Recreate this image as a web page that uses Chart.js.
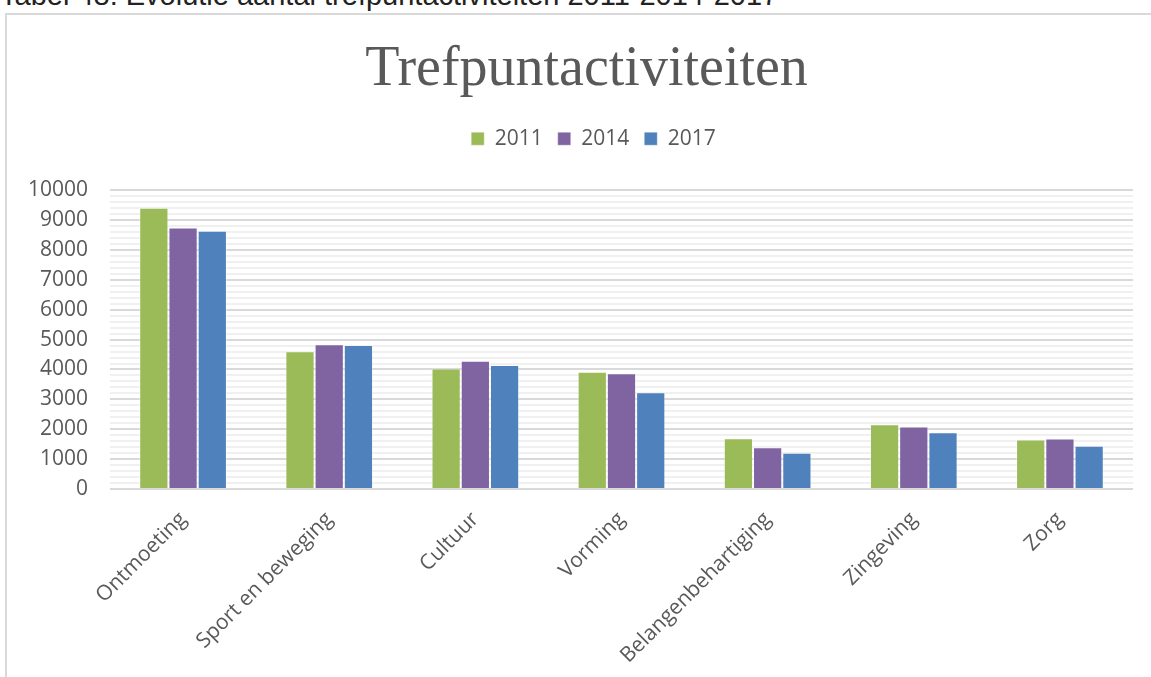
<!DOCTYPE html>
<html>
<head>
<meta charset="utf-8">
<script src="https://cdn.jsdelivr.net/npm/chart.js@4.4.1/dist/chart.umd.min.js"></script>
<style>
  html, body { margin: 0; padding: 0; background: #ffffff; overflow: hidden; }
  #page { position: relative; width: 1151px; height: 677px; overflow: hidden; background: #fff; }
  #caption { position: absolute; left: 0px; top: -19px; font-family: "Liberation Sans", "Open Sans", sans-serif; font-size: 29px; line-height: 28px; color: #222; white-space: nowrap; }
  #frame { position: absolute; left: 5px; top: 13px; width: 1300px; height: 800px; border-left: 2px solid #d9d9d9; border-top: 2px solid #d9d9d9; }
  #wrap { position: absolute; left: 0; top: 0; width: 1151px; height: 677px; }
</style>
</head>
<body>
<div id="page">
  <div id="caption">Tabel 48: Evolutie aantal trefpuntactiviteiten 2011-2014-2017</div>
  <div id="frame"></div>
  <div id="wrap"><canvas id="c" width="1151" height="677"></canvas></div>
</div>
<script>
const categories = ["Ontmoeting", "Sport en beweging", "Cultuur", "Vorming", "Belangenbehartiging", "Zingeving", "Zorg"];
const seriesNames = ["2011", "2014", "2017"];
const values2011 = [9410, 4610, 4030, 3920, 1700, 2170, 1660];
const values2014 = [8750, 4845, 4290, 3875, 1400, 2090, 1690];
const values2017 = [8640, 4820, 4150, 3240, 1210, 1900, 1450];
const seriesColors = ["#9BBB59", "#8064A2", "#4F81BD"];
const chartTitle = "Trefpuntactiviteiten";
const yMin = 0, yMax = 10000, yMajorStep = 1000, yMinorStep = 200;

const headerAdjust = {
  id: 'headerAdjust',
  beforeLayout(chart) {
    const lg = chart.legend;
    if (lg && !lg._patched) {
      const orig = lg.fit;
      lg.fit = function () { orig.call(this); this.height += 31; };
      lg._patched = true;
    }
  },
  afterLayout(chart) {
    if (chart.titleBlock) { chart.titleBlock.left += 15; chart.titleBlock.right += 15; }
    if (chart.legend) { chart.legend.left += 22; chart.legend.right += 22; }
  }
};

new Chart(document.getElementById('c'), {
  type: 'bar',
  data: {
    labels: categories,
    datasets: [values2011, values2014, values2017].map((v, i) => ({
      label: seriesNames[i],
      data: v,
      backgroundColor: seriesColors[i],
      borderColor: 'rgba(255,255,255,0.35)',
      borderWidth: 1,
      barPercentage: 1.0,
      categoryPercentage: 0.6
    }))
  },
  options: {
    responsive: false,
    animation: false,
    layout: { padding: { left: 10, right: 18, top: 0, bottom: 0 } },
    plugins: {
      title: {
        display: true,
        text: chartTitle,
        color: '#595959',
        font: { family: "'Liberation Serif', 'DejaVu Serif', serif", size: 56, weight: 'normal' },
        padding: { top: 37, bottom: 9 }
      },
      legend: {
        display: true,
        position: 'top',
        labels: {
          color: '#595959',
          font: { family: "'Open Sans', sans-serif", size: 21 },
          boxWidth: 13,
          boxHeight: 13,
          padding: 15
        }
      },
      tooltip: { enabled: false }
    },
    scales: {
      x: {
        grid: { display: false, drawTicks: false },
        border: { display: false },
        ticks: {
          color: '#595959',
          font: { family: "'Open Sans', sans-serif", size: 21 },
          maxRotation: 45,
          minRotation: 45,
          padding: 18,
          autoSkip: false
        },
        afterFit(scale) { scale.height = 188; }
      },
      y: {
        min: yMin,
        max: yMax,
        grid: {
          drawTicks: false,
          color: ctx => (ctx.tick && ctx.tick.value % yMajorStep === 0) ? '#d9d9d9' : '#f0f0f0',
          lineWidth: 2
        },
        border: { display: false },
        ticks: {
          stepSize: yMinorStep,
          autoSkip: false,
          color: '#595959',
          font: { family: "'Open Sans', sans-serif", size: 21 },
          padding: 22,
          callback: v => (v % yMajorStep === 0) ? String(v) : ''
        },
        afterFit(scale) { scale.width = 100; }
      }
    }
  },
  plugins: [headerAdjust]
});
</script>
</body>
</html>
